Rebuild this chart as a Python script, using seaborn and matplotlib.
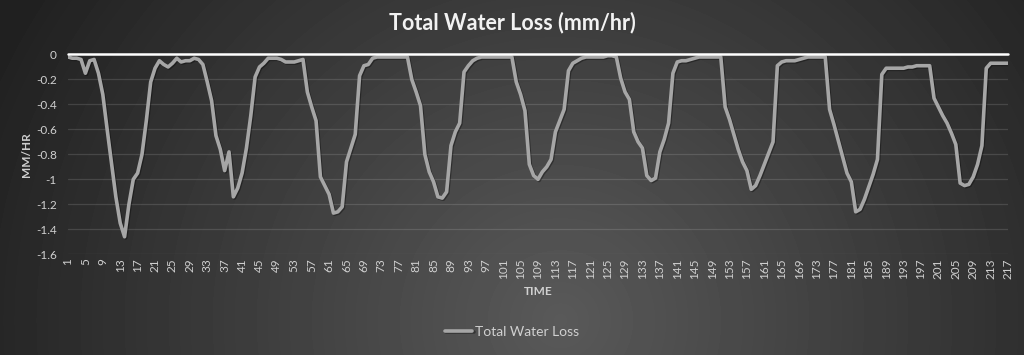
import numpy as np
import pandas as pd
import seaborn as sns
import matplotlib.pyplot as plt
import matplotlib.patheffects as pe

# values (mm/hr), one per time step
time_steps = list(range(1, 218))
water_loss = [
    -0.02, -0.03, -0.03, -0.04, -0.15, -0.05, -0.04, -0.15, -0.32, -0.60,
    -0.87, -1.14, -1.35, -1.46, -1.20, -1.00, -0.95, -0.80, -0.53, -0.22,
    -0.11, -0.05, -0.08, -0.10, -0.07, -0.03, -0.06, -0.05, -0.05, -0.03,
    -0.04, -0.08, -0.22, -0.37, -0.65, -0.76, -0.93, -0.78, -1.14, -1.07,
    -0.95, -0.75, -0.49, -0.18, -0.10, -0.07, -0.03, -0.03, -0.03, -0.04,
    -0.06, -0.06, -0.06, -0.05, -0.04, -0.30, -0.42, -0.53, -0.98, -1.05,
    -1.12, -1.27, -1.26, -1.22, -0.86, -0.75, -0.64, -0.17, -0.09, -0.08,
    -0.03, -0.02, -0.02, -0.02, -0.02, -0.02, -0.02, -0.02, -0.02, -0.20,
    -0.30, -0.41, -0.80, -0.94, -1.02, -1.14, -1.15, -1.10, -0.73, -0.62,
    -0.55, -0.14, -0.09, -0.05, -0.03, -0.02, -0.02, -0.02, -0.02, -0.02,
    -0.02, -0.02, -0.02, -0.22, -0.32, -0.45, -0.88, -0.97, -1.00, -0.94,
    -0.90, -0.84, -0.62, -0.53, -0.44, -0.13, -0.07, -0.05, -0.03, -0.02,
    -0.02, -0.02, -0.02, -0.02, -0.01, -0.01, -0.02, -0.19, -0.30, -0.36,
    -0.62, -0.70, -0.75, -0.97, -1.01, -0.99, -0.78, -0.68, -0.55, -0.15,
    -0.06, -0.05, -0.05, -0.04, -0.03, -0.02, -0.02, -0.02, -0.02, -0.02,
    -0.02, -0.42, -0.52, -0.64, -0.76, -0.86, -0.93, -1.08, -1.05, -0.97,
    -0.88, -0.79, -0.70, -0.09, -0.06, -0.05, -0.05, -0.05, -0.04, -0.03,
    -0.02, -0.02, -0.02, -0.02, -0.02, -0.44, -0.56, -0.69, -0.82, -0.95,
    -1.02, -1.26, -1.24, -1.16, -1.06, -0.96, -0.84, -0.16, -0.11, -0.11,
    -0.11, -0.11, -0.11, -0.10, -0.10, -0.09, -0.09, -0.09, -0.09, -0.35,
    -0.42, -0.49, -0.55, -0.63, -0.72, -1.03, -1.05, -1.04, -0.98, -0.88,
    -0.73, -0.11, -0.07, -0.07, -0.07, -0.07, -0.07,
]
x_ticks = list(range(1, 218, 4))
y_ticks = [-1.6, -1.4, -1.2, -1.0, -0.8, -0.6, -0.4, -0.2, 0.0]

title = "Total Water Loss (mm/hr)"
series_name = "Total Water Loss"

sns.set_theme(style="dark")
plt.rcParams["font.family"] = ["Lato", "DejaVu Sans"]

df = pd.DataFrame({"Time": time_steps, series_name: water_loss})

fig = plt.figure(figsize=(10.24, 3.55), dpi=100)

# dark radial gradient backdrop
bg = fig.add_axes([0, 0, 1, 1], zorder=-10)
yy, xx = np.mgrid[0:355, 0:1024]
r = np.hypot((xx - 560) / 620.0, (yy - 320) / 600.0)
shade = 0.35 - 0.22 * np.clip(r, 0, 1)
bg.imshow(shade, cmap="gray", vmin=0, vmax=1, aspect="auto")
bg.axis("off")

ax = fig.add_axes([0.0664, 0.2837, 0.918, 0.5628])
ax.patch.set_alpha(0)

sns.lineplot(data=df, x="Time", y=series_name, ax=ax, color="#a6a6a6",
             linewidth=2.6, legend=False)
line = ax.lines[0]
line.set_path_effects([pe.SimpleLineShadow(offset=(0.8, -0.8), shadow_color="black", alpha=0.35),
                       pe.Normal()])
line.set_label(series_name)

ax.axhline(0, color="white", lw=1.8, zorder=5, clip_on=False)

ax.set_xlim(1, 217)
ax.set_ylim(-1.6, 0)
ax.yaxis.grid(True, color="white", alpha=0.13, lw=0.9)
ax.xaxis.grid(False)
for s in ax.spines.values():
    s.set_visible(False)

ax.set_xticks(x_ticks)
ax.set_xticklabels([str(t) for t in x_ticks], rotation=90, fontsize=8.5, color="#d0d0d0")
ax.set_yticks(y_ticks)
ax.set_yticklabels([f"{round(v, 1):g}" if v != 0 else "0" for v in y_ticks],
                   fontsize=8.5, color="#d0d0d0")
ax.tick_params(axis="both", length=0)
ax.tick_params(axis="x", pad=3)
ax.tick_params(axis="y", pad=8)

ax.set_xlabel("TIME", fontsize=8.5, fontweight="bold", color="#d0d0d0", labelpad=5)
ax.set_ylabel("MM/HR", fontsize=8.5, fontweight="bold", color="#d0d0d0", labelpad=3)

fig.text(0.5, 0.938, title, ha="center", va="center", fontsize=15.5,
         fontweight="bold", color="#f2f2f2")

fig.legend(handles=[line], labels=[series_name], loc="center",
           bbox_to_anchor=(0.5, 0.065), frameon=False, fontsize=10,
           labelcolor="#d0d0d0", handlelength=2.0, handletextpad=0.2)

fig.savefig("out.png", dpi=100)
